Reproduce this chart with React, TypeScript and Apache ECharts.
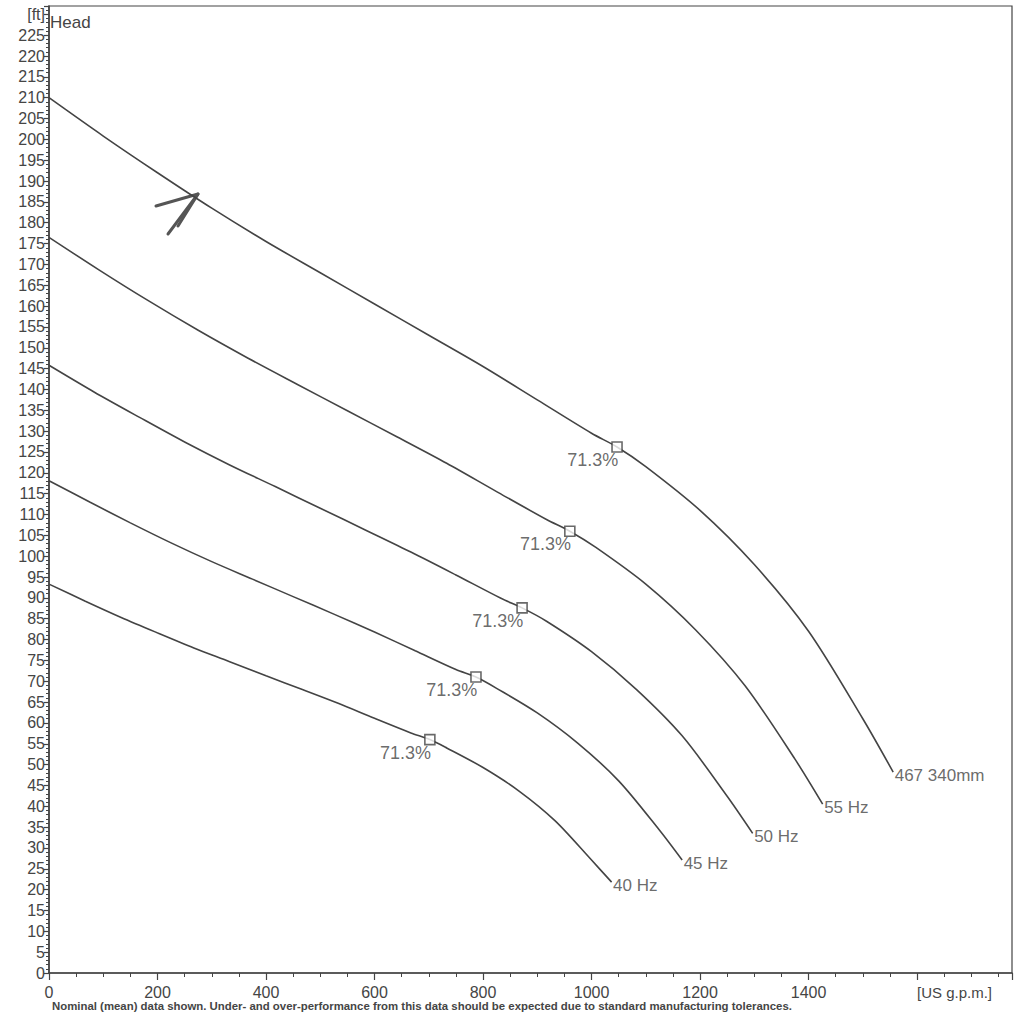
import React, { useEffect, useRef } from "react";
import * as echarts from "echarts";

// Head curves: [flow (US g.p.m.), head (ft)]
const curve60: [number, number][] = [
  [0, 210], [100, 200.8], [200, 192], [300, 183.5], [400, 175.5], [500, 168],
  [600, 160.5], [700, 153], [800, 145.5], [900, 137.5], [1000, 129.5], [1047, 126.2],
  [1100, 121.5], [1200, 111], [1300, 98], [1400, 82], [1500, 61], [1556, 48.2],
];
const curve55: [number, number][] = [
  [0, 176.5], [92, 168.7], [183, 161.3], [275, 154.2], [367, 147.5], [458, 141.2],
  [550, 134.9], [642, 128.6], [733, 122.3], [825, 115.5], [917, 108.8], [960, 106],
  [1008, 102.1], [1100, 93.3], [1192, 82.3], [1283, 68.9], [1375, 51.3], [1426, 40.5],
];
const curve50: [number, number][] = [
  [0, 145.8], [83, 139.4], [167, 133.3], [250, 127.4], [333, 121.9], [417, 116.7],
  [500, 111.5], [583, 106.3], [667, 101], [750, 95.5], [833, 89.9], [872, 87.6],
  [917, 84.4], [1000, 77.1], [1083, 68], [1167, 56.9], [1250, 42.4], [1297, 33.5],
];
const curve45: [number, number][] = [
  [0, 118.1], [75, 113], [150, 108], [225, 103.2], [300, 98.7], [375, 94.5],
  [450, 90.3], [525, 86.1], [600, 81.8], [675, 77.3], [750, 72.8], [787, 71],
  [825, 68.3], [900, 62.4], [975, 55.1], [1050, 46.1], [1125, 34.3], [1167, 27.1],
];
const curve40: [number, number][] = [
  [0, 93.3], [67, 89.2], [133, 85.3], [200, 81.6], [267, 78], [333, 74.7],
  [400, 71.3], [467, 68], [533, 64.7], [600, 61.1], [667, 57.6], [702, 56],
  [733, 54], [800, 49.3], [867, 43.6], [933, 36.5], [1000, 27.1], [1037, 21.8],
];
const curveNames = ["467 340mm", "55 Hz", "50 Hz", "45 Hz", "40 Hz"];
const curves = [curve60, curve55, curve50, curve45, curve40];

// Best efficiency points
const bepPoints: [number, number][] = [
  [1047, 126.2], [960, 106], [872, 87.6], [787, 71], [702, 56],
];
const bepLabel = "71.3%";

const xMax = 1775;
const yMax = 232;

const LINE = "#444444";
const TEXT = "#454545";
const FONT = "Liberation Sans, Arial, sans-serif";

export default function App() {
  const ref = useRef<HTMLDivElement>(null);

  useEffect(() => {
    if (!ref.current) return;
    const chart = echarts.init(ref.current, undefined, { renderer: "svg" });

    const lineSeries = curves.map((c, i) => ({
      type: "line",
      name: curveNames[i],
      data: c,
      showSymbol: false,
      symbol: "none",
      smooth: 0.3,
      lineStyle: { color: LINE, width: 1.6 },
      z: 2,
    }));

    const endSeries = {
      type: "scatter",
      data: curves.map((c, i) => ({ value: c[c.length - 1], name: curveNames[i] })),
      symbolSize: 1,
      itemStyle: { color: "rgba(0,0,0,0)" },
      label: {
        show: true,
        position: "right",
        distance: 1,
        formatter: (p: any) => p.name,
        color: TEXT,
        fontFamily: FONT,
        fontSize: 17,
        offset: [0, 3],
      },
      z: 3,
    };

    const bepSeries = {
      type: "scatter",
      data: bepPoints,
      symbol: "rect",
      symbolSize: 10,
      itemStyle: { color: "#ffffff", borderColor: LINE, borderWidth: 1.6 },
      label: {
        show: true,
        formatter: bepLabel,
        position: [7, 19],
        align: "right",
        verticalAlign: "middle",
        color: TEXT,
        fontFamily: FONT,
        fontSize: 18,
      },
      z: 4,
    };

    chart.setOption({
      animation: false,
      backgroundColor: "#ffffff",
      grid: {
        left: 49,
        top: 6,
        width: 963,
        height: 967,
        show: true,
        borderColor: LINE,
        borderWidth: 1.2,
        backgroundColor: "transparent",
      },
      xAxis: {
        type: "value",
        min: 0,
        max: xMax,
        interval: 200,
        splitLine: { show: false },
        axisLine: { show: true, lineStyle: { color: LINE, width: 1.6 } },
        axisTick: { show: true, length: 7, lineStyle: { color: LINE, width: 1.2 } },
        minorTick: { show: true, splitNumber: 4, length: 4, lineStyle: { color: LINE, width: 1 } },
        axisLabel: {
          margin: 11,
          color: TEXT,
          fontFamily: FONT,
          fontSize: 16,
          showMaxLabel: false,
          formatter: (v: number) => (v <= 1400 && v % 200 === 0 ? String(v) : ""),
        },
      },
      yAxis: {
        type: "value",
        min: 0,
        max: yMax,
        interval: 5,
        splitLine: { show: false },
        axisLine: { show: true, lineStyle: { color: LINE, width: 1.6 } },
        axisTick: { show: true, length: 5, lineStyle: { color: LINE, width: 1.2 } },
        minorTick: { show: true, splitNumber: 5, length: 3, lineStyle: { color: LINE, width: 1 } },
        axisLabel: {
          margin: 4,
          color: TEXT,
          fontFamily: FONT,
          fontSize: 16,
          formatter: (v: number) => (v === 230 ? "[ft]" : v % 5 === 0 && v <= 225 ? String(v) : ""),
        },
      },
      graphic: [
        {
          type: "text",
          left: 50,
          top: 14,
          style: { text: "Head", fill: TEXT, font: `17px ${FONT}` },
        },
        {
          type: "text",
          left: 917,
          top: 985,
          style: { text: "[US g.p.m.]", fill: TEXT, font: `15px ${FONT}` },
        },
        {
          type: "text",
          left: 52,
          top: 1000,
          style: {
            text: "Nominal (mean) data shown. Under- and over-performance from this data should be expected due to standard manufacturing tolerances.",
            fill: TEXT,
            font: `bold 11.4px ${FONT}`,
          },
        },
        {
          type: "polyline",
          shape: { points: [[156, 206], [198, 194], [168, 234]] },
          style: { stroke: "#555", lineWidth: 3, fill: "none", lineJoin: "round", lineCap: "round" },
        },
        {
          type: "line",
          shape: { x1: 198, y1: 194, x2: 178, y2: 226 },
          style: { stroke: "#555", lineWidth: 3, lineCap: "round" },
        },
      ],
      series: [...lineSeries, endSeries, bepSeries],
    });

    return () => chart.dispose();
  }, []);

  return (
    <div
      ref={ref}
      style={{ position: "absolute", left: 0, top: 0, width: 1014, height: 1013 }}
    />
  );
}
